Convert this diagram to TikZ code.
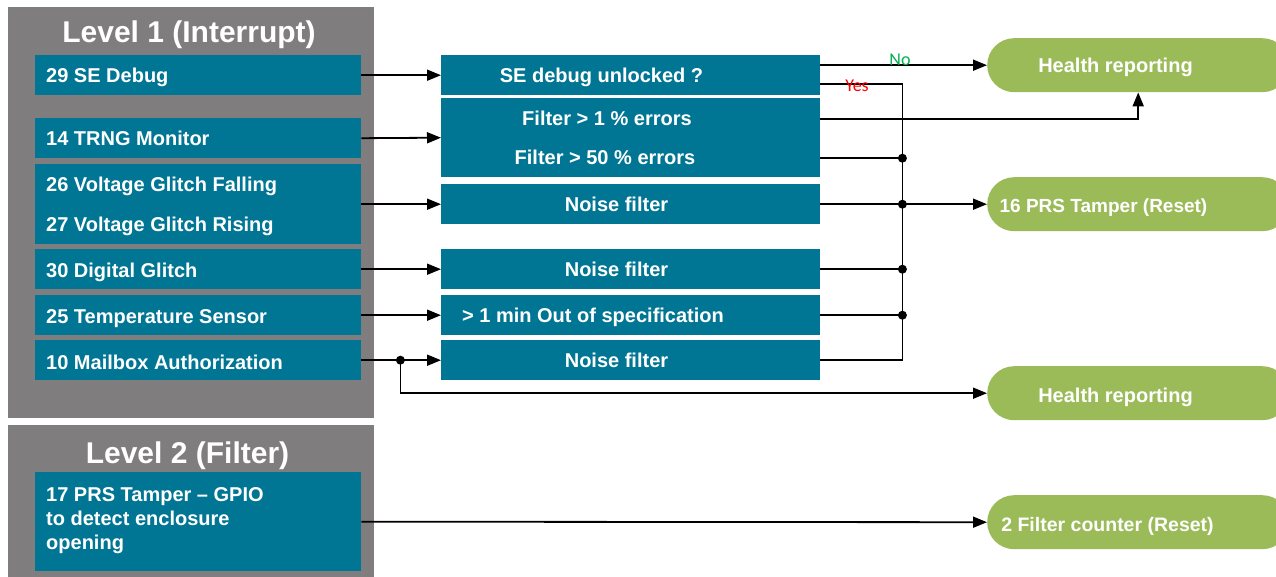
\documentclass[tikz,border=0pt]{standalone}
\usepackage{fontspec}
\setmainfont{Liberation Sans}
\newfontfamily\labelfont{Carlito}
\usetikzlibrary{arrows.meta,calc}
\definecolor{panelgray}{RGB}{127,125,126}
\definecolor{boxteal}{RGB}{0,118,148}
\definecolor{pillgreen}{RGB}{155,187,89}
\definecolor{nogreen}{RGB}{0,176,80}
\definecolor{yesred}{RGB}{255,0,0}
\begin{document}
\begin{tikzpicture}[x=1pt,y=-1pt,
  panel/.style={fill=panelgray,draw=none,anchor=north west,inner sep=0pt,minimum width=366pt},
  box/.style={fill=boxteal,draw=none,anchor=north west,inner sep=0pt},
  srcbox/.style={box,minimum width=326pt,minimum height=40pt},
  midbox/.style={box,minimum width=379pt,minimum height=40pt},
  pill/.style={fill=pillgreen,draw=none,rounded corners=27pt,anchor=north west,
               inner sep=0pt,minimum width=302pt,minimum height=54pt},
  txt/.style={text=white,font=\bfseries\fontsize{20}{24}\selectfont,inner sep=0pt},
  title/.style={text=white,font=\bfseries\fontsize{30}{36}\selectfont,inner sep=0pt,anchor=base},
  wire/.style={line width=1.8pt},
  flow/.style={wire,-{Triangle[length=14pt,width=11pt]}},
  dot/.style={circle,fill=black,inner sep=0pt,minimum size=9pt},
  ans/.style={font=\labelfont\fontsize{18}{20}\selectfont,inner sep=0pt}
]
\useasboundingbox (0,0) rectangle (1276,577);
\clip (0,0) rectangle (1276,577);
\fill[white] (0,0) rectangle (1276,577);

% level panels
\node[panel,minimum height=411pt] (lvl1) at (8,7) {};
\node[panel,minimum height=160pt] (lvl2) at (8,425) {};
\node[title] (ttl1) at (189,43) {Level 1 (Interrupt)};
\node[title] (ttl2) at (187.5,463) {Level 2 (Filter)};

% interrupt sources
\node[srcbox] (src29) at (35,55) {};
\node[srcbox] (src14) at (35,118) {};
\node[srcbox,minimum height=80pt] (src26) at (35,164) {};
\node[srcbox] (src30) at (35,249) {};
\node[srcbox] (src25) at (35,295) {};
\node[srcbox] (src10) at (35,340) {};
\node[srcbox,minimum height=99pt] (src17) at (35,472) {};

\node[txt,anchor=base west] (l29) at (46,82.5) {29 SE Debug};
\node[txt,anchor=base west] (l14) at (46,146) {14 TRNG Monitor};
\node[txt,anchor=base west] (l26) at (46,192) {26 Voltage Glitch Falling};
\node[txt,anchor=base west] (l27) at (46,232) {27 Voltage Glitch Rising};
\node[txt,anchor=base west] (l30) at (46,277) {30 Digital Glitch};
\node[txt,anchor=base west] (l25) at (46,323) {25 Temperature Sensor};
\node[txt,anchor=base west] (l10) at (46,369) {10 Mailbox Authorization};
\node[txt,anchor=north west,align=left] (l17) at (46,487)
  {17 PRS Tamper -- GPIO\\to detect enclosure\\opening};

% filter stage
\node[midbox] (dbg) at (441,55) {};
\node[midbox,minimum height=79pt] (filt) at (441,98) {};
\node[midbox] (noise1) at (441,184) {};
\node[midbox] (noise2) at (441,249) {};
\node[midbox] (oos) at (441,295) {};
\node[midbox] (noise3) at (441,340) {};

\node[txt,anchor=base] (tdbg) at (601.5,83) {SE debug unlocked ?};
\node[txt,anchor=base] (tf1) at (607,126) {Filter > 1 \% errors};
\node[txt,anchor=base] (tf50) at (605,165) {Filter > 50 \% errors};
\node[txt,anchor=base] (tn1) at (616.5,211.5) {Noise filter};
\node[txt,anchor=base] (tn2) at (616.5,276.5) {Noise filter};
\node[txt,anchor=base] (toos) at (593,322.5) {> 1 min Out of specification};
\node[txt,anchor=base] (tn3) at (616.5,367.5) {Noise filter};

% outcomes
\node[pill] (hr1) at (987,38) {};
\node[pill] (prs16) at (987,177) {};
\node[pill] (hr2) at (987,366) {};
\node[pill] (fc) at (987,495) {};
\node[txt,anchor=base] (thr1) at (1115.5,73) {Health reporting};
\node[txt,anchor=base,font=\bfseries\fontsize{19}{24}\selectfont] (tprs) at (1103.5,212.5) {16 PRS Tamper (Reset)};
\node[txt,anchor=base] (thr2) at (1115.5,402.5) {Health reporting};
\node[txt,anchor=base,font=\bfseries\fontsize{19.5}{24}\selectfont] (tfc) at (1107.5,531.5) {2 Filter counter (Reset)};

% connection points
\coordinate (no) at ($(dbg.east)+(0,-10)$);
\coordinate (yes) at ($(dbg.east)+(0,9)$);
\coordinate (f1) at ($(filt.east)+(0,-18.5)$);
\coordinate (f50) at ($(filt.east)+(0,20.5)$);
\coordinate (bx) at ($(yes)+(82,0)$);
\coordinate (busend) at (noise3.east -| bx);

% inputs
\draw[flow] (src29.east) -- (dbg.west);
\draw[flow] (src14.east) -- (filt.west);
\draw[flow] (src26.east) -- (noise1.west);
\draw[flow] (src30.east) -- (noise2.west);
\draw[flow] (src25.east) -- (oos.west);
\draw[flow] (src10.east) -- (noise3.west);
\node[dot] (split) at ($(src10.east)+(39,0)$) {};
\draw[flow] (split.center) |- (hr2.west);
\draw[flow] (src17.east) -- (fc.west);

% outputs
\draw[flow] (no) -- (hr1.west);
\draw[flow] (f1) -| (hr1.south);
\draw[wire] (yes) -| (busend) -- (noise3.east);
\node[dot] (j1) at (f50 -| bx) {};
\node[dot] (j2) at (noise1.east -| bx) {};
\node[dot] (j3) at (noise2.east -| bx) {};
\node[dot] (j4) at (oos.east -| bx) {};
\draw[wire] (f50) -- (j1.center);
\draw[flow] (noise1.east) -- (prs16.west);
\draw[wire] (noise2.east) -- (j3.center);
\draw[wire] (oos.east) -- (j4.center);

\node[ans,text=nogreen] (lno) at (900,60) {No};
\node[ans,text=yesred] (lyes) at (857,86) {Yes};
\end{tikzpicture}
\end{document}
